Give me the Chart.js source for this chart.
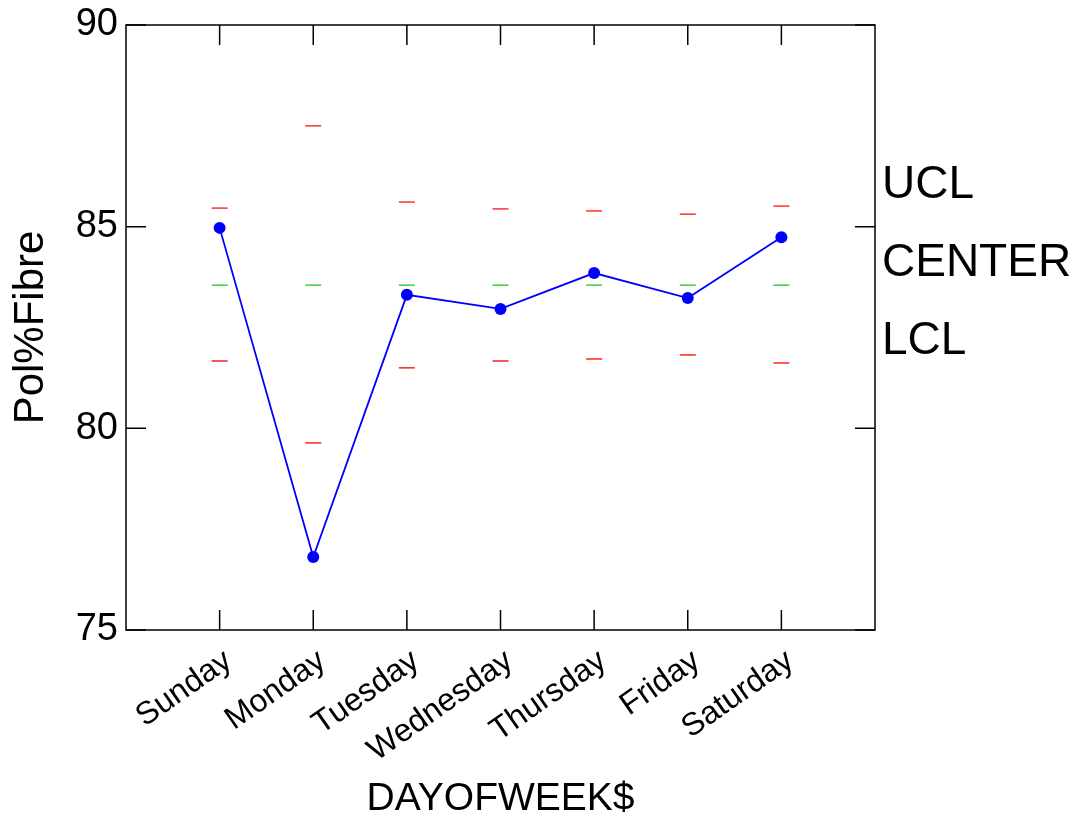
<!DOCTYPE html>
<html>
<head>
<meta charset="utf-8">
<script src="https://cdn.jsdelivr.net/npm/chart.js@4/dist/chart.umd.min.js"></script>
<style>
  body { margin: 0; background: #fff; }
  canvas { display: block; }
</style>
</head>
<body>
<canvas id="myChart1" width="1079" height="819"></canvas>
<script>
// control chart data
var days = ['Sunday', 'Monday', 'Tuesday', 'Wednesday', 'Thursday', 'Friday', 'Saturday'];
var polFibre = [84.97, 76.81, 83.31, 82.96, 83.85, 83.23, 84.74];
var ucl = [85.46, 87.50, 85.61, 85.44, 85.39, 85.31, 85.51];
var center = [83.55, 83.55, 83.55, 83.55, 83.55, 83.55, 83.55];
var lcl = [81.67, 79.64, 81.50, 81.67, 81.72, 81.82, 81.62];
var yTicks = [75, 80, 85, 90];
var limitLabels = ['UCL', 'CENTER', 'LCL'];

function pts(arr) {
  return arr.map((v, i) => ({ x: i + 1, y: v }));
}

var FONT = "'Liberation Sans', Arial, sans-serif";

// frame box with inward tick marks + limit labels on the right
var framePlugin = {
  id: 'frame',
  afterDraw: function (chart) {
    var ctx = chart.ctx, a = chart.chartArea;
    var xs = chart.scales.x, ys = chart.scales.y;
    ctx.save();
    ctx.strokeStyle = '#000';
    ctx.lineWidth = 1.5;
    ctx.strokeRect(a.left, a.top, a.right - a.left, a.bottom - a.top);
    ctx.beginPath();
    days.forEach(function (d, i) {
      var px = xs.getPixelForValue(i + 1);
      ctx.moveTo(px, a.top); ctx.lineTo(px, a.top + 20);
      ctx.moveTo(px, a.bottom); ctx.lineTo(px, a.bottom - 20);
    });
    yTicks.forEach(function (t) {
      var py = ys.getPixelForValue(t);
      ctx.moveTo(a.left, py); ctx.lineTo(a.left + 20, py);
      ctx.moveTo(a.right, py); ctx.lineTo(a.right - 20, py);
    });
    ctx.stroke();
    ctx.fillStyle = '#000';
    ctx.font = '46px ' + FONT;
    ctx.textAlign = 'left';
    ctx.textBaseline = 'middle';
    limitLabels.forEach(function (t, i) {
      ctx.fillText(t, a.right + 7, a.top + 160 + i * 78);
    });
    ctx.restore();
  }
};

new Chart(document.getElementById('myChart1'), {
  type: 'line',
  data: {
    datasets: [
      {
        label: 'UCL',
        data: pts(ucl),
        showLine: false,
        pointStyle: 'line',
        pointRadius: 8,
        pointBorderWidth: 1.5,
        borderColor: '#ff3030',
      },
      {
        label: 'CENTER',
        data: pts(center),
        showLine: false,
        pointStyle: 'line',
        pointRadius: 8,
        pointBorderWidth: 1.5,
        borderColor: '#3ccf3c',
      },
      {
        label: 'LCL',
        data: pts(lcl),
        showLine: false,
        pointStyle: 'line',
        pointRadius: 8,
        pointBorderWidth: 1.5,
        borderColor: '#ff2020',
      },
      {
        label: 'Pol%Fibre',
        data: pts(polFibre),
        borderColor: '#0000ff',
        backgroundColor: '#0000ff',
        borderWidth: 1.8,
        pointRadius: 6,
        pointBorderWidth: 0,
        tension: 0,
      },
    ],
  },
  options: {
    responsive: false,
    animation: false,
    layout: { padding: { top: 25, right: 204, left: 0, bottom: 0 } },
    plugins: {
      legend: { display: false },
      tooltip: { enabled: false },
    },
    scales: {
      x: {
        type: 'linear',
        min: 0,
        max: 8,
        grid: { display: false, drawTicks: false },
        border: { display: false },
        afterFit: function (s) {
          s.height = 189;
          s.paddingLeft = 0;
          s.paddingRight = 0;
        },
        ticks: {
          stepSize: 1,
          autoSkip: false,
          maxRotation: 35,
          minRotation: 35,
          padding: 12,
          labelOffset: 9,
          color: '#000',
          font: { family: FONT, size: 32 },
          callback: function (v) { return days[v - 1] || ''; },
        },
        title: {
          display: true,
          text: 'DAYOFWEEK$',
          color: '#000',
          font: { family: FONT, size: 39, lineHeight: 1 },
          padding: { top: 0, bottom: 0 },
        },
      },
      y: {
        min: 75,
        max: 90,
        grid: { display: false, drawTicks: false },
        border: { display: false },
        afterFit: function (s) {
          s.width = 126;
          s.paddingTop = 0;
          s.paddingBottom = 0;
        },
        ticks: {
          stepSize: 5,
          padding: 8,
          color: '#000',
          font: { family: FONT, size: 38 },
        },
        title: {
          display: true,
          text: 'Pol%Fibre',
          color: '#000',
          font: { family: FONT, size: 42 },
          padding: { top: 6, bottom: 0 },
        },
      },
    },
  },
  plugins: [framePlugin],
});
</script>
</body>
</html>
